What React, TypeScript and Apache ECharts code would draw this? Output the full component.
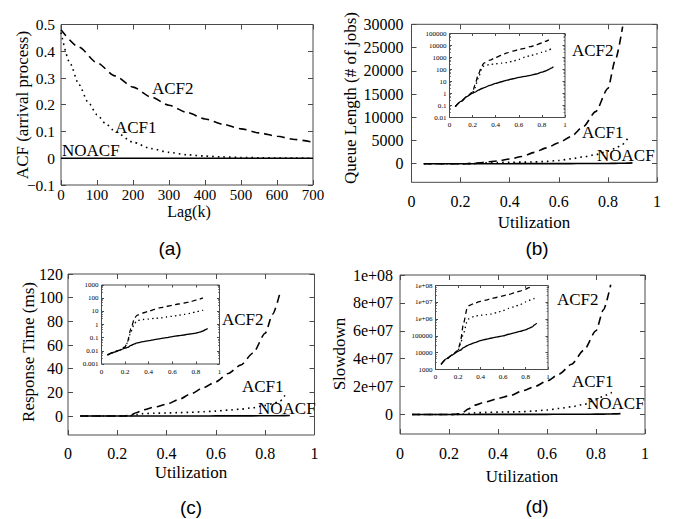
import React, { useEffect, useRef } from 'react';
import * as echarts from 'echarts';

// ---------- Panel (a): ACF of arrival process ----------
const lagAcf2 = [0, 50, 100, 150, 200, 250, 300, 350, 400, 450, 500, 550, 600, 650, 700];
const acf2Lag = [0.48, 0.415, 0.357, 0.308, 0.266, 0.229, 0.198, 0.171, 0.147, 0.127, 0.11, 0.095, 0.082, 0.07, 0.06];
const lagAcf1 = [0, 25, 50, 75, 100, 125, 150, 200, 250, 300, 350, 400, 450, 500, 550, 600, 650, 700];
const acf1Lag = [0.47, 0.355, 0.275, 0.21, 0.163, 0.128, 0.1, 0.06, 0.036, 0.022, 0.013, 0.008, 0.005, 0.003, 0.002, 0.001, 0.0005, 0];
const lagNoacf = [0, 700];
const noacfLag = [0, 0];

// ---------- Utilization grid shared by (b), (c), (d) ----------
const util = [0.05, 0.1, 0.15, 0.2, 0.22, 0.25, 0.28, 0.3, 0.35, 0.4, 0.45, 0.5, 0.55, 0.6, 0.65, 0.7, 0.75, 0.8, 0.83, 0.86, 0.88, 0.9];

// (b) Queue length
const noacfQueue = [0.08, 0.22, 0.55, 1.1, 1.3, 1.9, 2.6, 3.1, 4.8, 7, 9.5, 13, 17, 22, 27, 33, 42, 60, 75, 100, 130, 170];
const acf1Queue = [0.08, 0.22, 0.55, 1.2, 3, 20, 120, 200, 260, 300, 340, 380, 500, 700, 1050, 1450, 1950, 2700, 3300, 4200, 5400, null];
const acf2Queue = [0.08, 0.22, 0.55, 1.3, 5, 40, 200, 350, 600, 1000, 1550, 2450, 3400, 4500, 5850, 8000, 11200, 16200, 22300, 29500, null, null];

// (c) Response time (ms)
const noacfResp = [0.0048, 0.0075, 0.011, 0.016, 0.018, 0.026, 0.034, 0.04, 0.05, 0.06, 0.072, 0.085, 0.1, 0.12, 0.14, 0.16, 0.19, 0.22, 0.26, 0.32, 0.4, 0.5];
const acf1Resp = [0.0048, 0.0075, 0.011, 0.018, 0.04, 0.3, 1.2, 2, 2.4, 2.6, 2.9, 3.2, 3.7, 4.2, 5, 5.8, 7, 9, 10.5, 12.5, 17.5, null];
const acf2Resp = [0.0048, 0.0075, 0.011, 0.02, 0.05, 0.5, 3, 5, 7.5, 10, 14, 19, 24, 29, 36, 43, 53, 70, 86, 104, null, null];

// (d) Slowdown
const noacfSlow = [2000, 4400, 7500, 12000, 14000, 20000, 26000, 30000, 40000, 52000, 63000, 75000, 87000, 100000, 125000, 150000, 185000, 230000, 280000, 340000, 450000, 580000];
const acf1Slow = [2000, 4400, 7500, 13000, 30000, 150000, 700000, 1100000, 1500000, 1700000, 1850000, 2000000, 2500000, 3200000, 4300000, 5500000, 7200000, 10500000, 13000000, 15500000, 17200000, null];
const acf2Slow = [2000, 4400, 7500, 14000, 40000, 600000, 4000000, 6500000, 9000000, 11500000, 13500000, 17000000, 20000000, 24000000, 29000000, 36000000, 46000000, 60000000, 75000000, 93000000, null, null];

// tick labels
const queueTicks = [0, 5000, 10000, 15000, 20000, 25000, 30000];
const respTicks = [0, 20, 40, 60, 80, 100, 120];
const slowTicks = [0, 20000000, 40000000, 60000000, 80000000, 100000000];

const SERIF = '"Liberation Serif", "Times New Roman", serif';
const SANS = '"Liberation Sans", Arial, sans-serif';
const FRAME = '#4a4a4a';

function pairs(xs: number[], ys: (number | null)[]) {
  const out: number[][] = [];
  xs.forEach((x, i) => {
    const y = ys[i];
    if (y !== null && y !== undefined) out.push([x, y]);
  });
  return out;
}

function fmtPlain(v: number) {
  return String(Math.round(v * 1e6) / 1e6);
}
function fmtMinus(v: number) {
  return fmtPlain(v).replace('-', '\u2212');
}
function fmtSci(v: number) {
  if (v === 0) return '0';
  const exp = Math.floor(Math.log10(Math.abs(v)) + 1e-9);
  const mant = Math.round(v / Math.pow(10, exp));
  return mant + 'e+' + (exp < 10 ? '0' + exp : String(exp));
}
function fmtLog(v: number) {
  const e = Math.round(Math.log10(v));
  if (e < 0) return Math.pow(10, e).toFixed(-e);
  return '1' + '0'.repeat(e);
}
function fmtLogSci(v: number) {
  const e = Math.round(Math.log10(v));
  if (e >= 6) return '1e+' + (e < 10 ? '0' + e : String(e));
  return '1' + '0'.repeat(e);
}

type AxisCfg = {
  type: 'value' | 'log';
  min: number;
  max: number;
  interval?: number;
  custom?: number[];
  fmt?: (v: number) => string;
  margin: number;
  fontSize: number;
  tickLen: number;
  minor?: boolean;
};

function makeAxes(gridIndex: number, xc: AxisCfg, yc: AxisCfg) {
  const base = (c: AxisCfg, position: string, showLabel: boolean) => {
    const ax: any = {
      gridIndex,
      type: c.type,
      min: c.min,
      max: c.max,
      position,
      axisLine: { show: false, onZero: false },
      splitLine: { show: false },
      axisTick: {
        show: true,
        inside: true,
        length: c.tickLen,
        lineStyle: { color: FRAME, width: 1 },
      },
      axisLabel: {
        show: showLabel,
        margin: c.margin,
        fontFamily: SERIF,
        fontSize: c.fontSize,
        color: '#000',
        formatter: c.fmt || fmtPlain,
        hideOverlap: false,
      },
    };
    if (c.type === 'log') ax.logBase = 10;
    if (c.interval !== undefined) ax.interval = c.interval;
    if (c.custom) {
      ax.axisLabel.customValues = c.custom;
      ax.axisTick.customValues = c.custom;
    }
    if (c.minor) {
      ax.minorTick = { show: true, splitNumber: 5, length: c.tickLen * 0.55, lineStyle: { color: FRAME, width: 0.8 } };
    }
    return ax;
  };
  return {
    x: [base(xc, 'bottom', true), base(xc, 'top', false)],
    y: [base(yc, 'left', true), base(yc, 'right', false)],
  };
}

const grids = [
  { left: 61, top: 24.5, width: 252, height: 160.5 }, // a
  { left: 411.5, top: 24.3, width: 245.5, height: 158 }, // b
  { left: 68, top: 274, width: 246.5, height: 161 }, // c
  { left: 400, top: 275, width: 245, height: 159 }, // d
  { left: 449.5, top: 33.5, width: 115.5, height: 84 }, // b inset
  { left: 101.5, top: 285, width: 118, height: 79 }, // c inset
  { left: 435.5, top: 285.5, width: 112.5, height: 84 }, // d inset
];

export default function App() {
  const ref = useRef<HTMLDivElement>(null);
  useEffect(() => {
    const chart = echarts.init(ref.current!, null, { renderer: 'svg' });

    const utilX = (m: number): AxisCfg => ({ type: 'value', min: 0, max: 1, interval: 0.2, margin: m, fontSize: 16, tickLen: 5 });
    const insetX = (m: number): AxisCfg => ({ type: 'value', min: 0, max: 1, interval: 0.2, margin: m, fontSize: 7, tickLen: 2.5 });

    const axesList = [
      makeAxes(0,
        { type: 'value', min: 0, max: 700, interval: 100, margin: 2, fontSize: 15, tickLen: 5 },
        { type: 'value', min: -0.1, max: 0.5, interval: 0.1, margin: 6, fontSize: 15.5, tickLen: 5, fmt: fmtMinus }),
      makeAxes(1, utilX(11),
        { type: 'value', min: -4000, max: 30000, custom: queueTicks, margin: 8, fontSize: 16, tickLen: 5 }),
      makeAxes(2, utilX(10),
        { type: 'value', min: -16, max: 120, custom: respTicks, margin: 5, fontSize: 16, tickLen: 5 }),
      makeAxes(3, utilX(11),
        { type: 'value', min: -14000000, max: 100000000, custom: slowTicks, margin: 7, fontSize: 16, tickLen: 5, fmt: fmtSci }),
      makeAxes(4, insetX(4),
        { type: 'log', min: 0.01, max: 100000, margin: 3, fontSize: 7, tickLen: 2.5, fmt: fmtLog, minor: true }),
      makeAxes(5, insetX(4),
        { type: 'log', min: 0.001, max: 1000, margin: 3, fontSize: 7, tickLen: 2.5, fmt: fmtLog, minor: true }),
      makeAxes(6, insetX(4),
        { type: 'log', min: 1000, max: 100000000, margin: 3, fontSize: 7, tickLen: 2.5, fmt: fmtLogSci, minor: true }),
    ];
    const xAxis: any[] = [];
    const yAxis: any[] = [];
    axesList.forEach((a) => { xAxis.push(...a.x); yAxis.push(...a.y); });

    const mk = (g: number, data: number[][], kind: 'solid' | 'dash' | 'dot', inset: boolean) => ({
      type: 'line',
      xAxisIndex: g * 2,
      yAxisIndex: g * 2,
      data,
      symbol: 'none',
      smooth: 0.25,
      smoothMonotone: 'x',
      silent: true,
      lineStyle: {
        color: '#000',
        width: inset ? 1.3 : 1.6,
        type: kind === 'solid' ? 'solid' : kind === 'dash' ? (inset ? [5, 3.5] : [8, 5]) : (inset ? [1.4, 3.2] : [1.6, 4]),
        cap: 'butt',
      },
      z: kind === 'solid' ? 3 : 2,
    });

    const series: any[] = [
      mk(0, pairs(lagNoacf, noacfLag), 'solid', false),
      mk(0, pairs(lagAcf1, acf1Lag), 'dot', false),
      mk(0, pairs(lagAcf2, acf2Lag), 'dash', false),

      mk(1, pairs(util, noacfQueue), 'solid', false),
      mk(1, pairs(util, acf1Queue), 'dot', false),
      mk(1, pairs(util, acf2Queue), 'dash', false),
      mk(4, pairs(util, noacfQueue), 'solid', true),
      mk(4, pairs(util, acf1Queue), 'dot', true),
      mk(4, pairs(util, acf2Queue), 'dash', true),

      mk(2, pairs(util, noacfResp), 'solid', false),
      mk(2, pairs(util, acf1Resp), 'dot', false),
      mk(2, pairs(util, acf2Resp), 'dash', false),
      mk(5, pairs(util, noacfResp), 'solid', true),
      mk(5, pairs(util, acf1Resp), 'dot', true),
      mk(5, pairs(util, acf2Resp), 'dash', true),

      mk(3, pairs(util, noacfSlow), 'solid', false),
      mk(3, pairs(util, acf1Slow), 'dot', false),
      mk(3, pairs(util, acf2Slow), 'dash', false),
      mk(6, pairs(util, noacfSlow), 'solid', true),
      mk(6, pairs(util, acf1Slow), 'dot', true),
      mk(6, pairs(util, acf2Slow), 'dash', true),
    ];

    const txt = (text: string, x: number, y: number, size = 17, align = 'left', font = SERIF, rot = 0) => ({
      type: 'text',
      x,
      y,
      rotation: rot,
      z: 10,
      silent: true,
      style: {
        text,
        fill: '#000',
        font: `${size}px ${font}`,
        align,
        verticalAlign: 'middle',
      },
    });

    const graphic: any[] = [
      // (a)
      txt('ACF2', 152, 88),
      txt('ACF1', 115, 127),
      txt('NOACF', 62, 150),
      txt('ACF (arrival process)', 22, 105, 17, 'center', SERIF, Math.PI / 2),
      txt('Lag(k)', 189, 211, 16, 'center'),
      txt('(a)', 170, 248, 19, 'center', SANS),
      // (b)
      txt('ACF2', 572, 50),
      txt('ACF1', 582, 132),
      txt('NOACF', 597, 155),
      txt('Queue Length (# of jobs)', 350, 98, 17, 'center', SERIF, Math.PI / 2),
      txt('Utilization', 534, 222, 17, 'center'),
      txt('(b)', 537, 248, 19, 'center', SANS),
      // (c)
      txt('ACF2', 222, 319),
      txt('ACF1', 242, 386),
      txt('NOACF', 258, 408),
      txt('Response Time (ms)', 28, 352, 17, 'center', SERIF, Math.PI / 2),
      txt('Utilization', 191, 472, 17, 'center'),
      txt('(c)', 191, 507, 19, 'center', SANS),
      // (d)
      txt('ACF2', 557, 299),
      txt('ACF1', 572, 381),
      txt('NOACF', 587, 403),
      txt('Slowdown', 339, 354, 17, 'center', SERIF, Math.PI / 2),
      txt('Utilization', 522, 476, 17, 'center'),
      txt('(d)', 537, 506, 19, 'center', SANS),
    ];

    chart.setOption({
      animation: false,
      backgroundColor: '#fff',
      grid: grids.map((g, i) => ({
        ...g,
        show: true,
        borderColor: FRAME,
        borderWidth: 1,
        backgroundColor: i >= 4 ? '#fff' : 'transparent',
        containLabel: false,
      })),
      xAxis,
      yAxis,
      series,
      graphic,
    });
    return () => chart.dispose();
  }, []);
  return (
    <div
      ref={ref}
      style={{ position: 'absolute', left: 0, top: 0, width: 681, height: 519, background: '#fff' }}
    />
  );
}
